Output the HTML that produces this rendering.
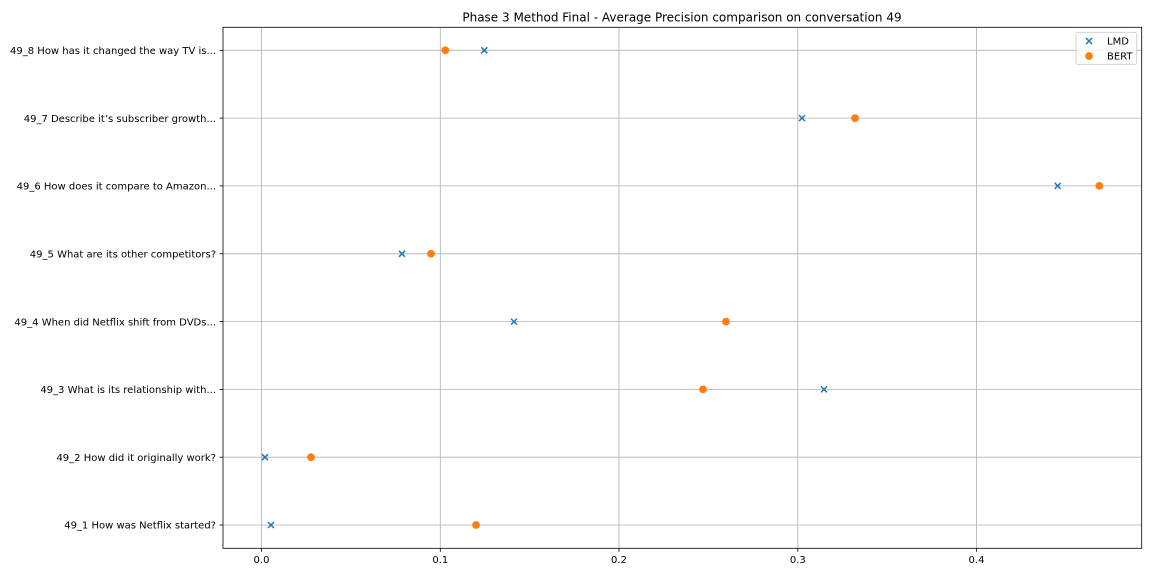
<!DOCTYPE html>
<html>
<head>
<meta charset="utf-8">
<style>
html,body{margin:0;padding:0;background:#fff;}
svg{display:block;}
text{font-family:"DejaVu Sans","Liberation Sans",sans-serif;fill:#000;}
</style>
</head>
<body>
<svg width="1152" height="576" viewBox="0 0 1152 576" xmlns="http://www.w3.org/2000/svg">
<rect x="0" y="0" width="1152" height="576" fill="#fff"/>
<!-- grid vertical -->
<g stroke="#b0b0b0" stroke-width="0.8">
<line x1="261.5" y1="27.3" x2="261.5" y2="548.3"/>
<line x1="440.3" y1="27.3" x2="440.3" y2="548.3"/>
<line x1="619" y1="27.3" x2="619" y2="548.3"/>
<line x1="797.8" y1="27.3" x2="797.8" y2="548.3"/>
<line x1="976.5" y1="27.3" x2="976.5" y2="548.3"/>
<!-- horizontal -->
<line x1="223" y1="50.3" x2="1141.7" y2="50.3"/>
<line x1="223" y1="118.1" x2="1141.7" y2="118.1"/>
<line x1="223" y1="185.9" x2="1141.7" y2="185.9"/>
<line x1="223" y1="253.8" x2="1141.7" y2="253.8"/>
<line x1="223" y1="321.6" x2="1141.7" y2="321.6"/>
<line x1="223" y1="389.4" x2="1141.7" y2="389.4"/>
<line x1="223" y1="457.2" x2="1141.7" y2="457.2"/>
<line x1="223" y1="525" x2="1141.7" y2="525"/>
</g>
<!-- LMD markers -->
<g stroke="#1f77b4" stroke-width="1.5" fill="none">
<path d="M481.3 47.3 l6 6 M481.3 53.3 l6 -6"/>
<path d="M799 115.1 l6 6 M799 121.1 l6 -6"/>
<path d="M1054.7 182.9 l6 6 M1054.7 188.9 l6 -6"/>
<path d="M399 250.8 l6 6 M399 256.8 l6 -6"/>
<path d="M511 318.6 l6 6 M511 324.6 l6 -6"/>
<path d="M821 386.4 l6 6 M821 392.4 l6 -6"/>
<path d="M262 454.2 l6 6 M262 460.2 l6 -6"/>
<path d="M268 522 l6 6 M268 528 l6 -6"/>
</g>
<!-- BERT markers -->
<g fill="#ff7f0e" stroke="#ff7f0e" stroke-width="1">
<circle cx="445.3" cy="50.3" r="3.4"/>
<circle cx="855" cy="118.1" r="3.4"/>
<circle cx="1099.3" cy="185.9" r="3.4"/>
<circle cx="431" cy="253.8" r="3.4"/>
<circle cx="726" cy="321.6" r="3.4"/>
<circle cx="703" cy="389.4" r="3.4"/>
<circle cx="311" cy="457.2" r="3.4"/>
<circle cx="476" cy="525" r="3.4"/>
</g>
<!-- spines -->
<rect x="223" y="27.3" width="918.7" height="521" fill="none" stroke="#000" stroke-width="0.8"/>
<!-- ticks -->
<g stroke="#000" stroke-width="0.8">
<line x1="261.5" y1="548.3" x2="261.5" y2="551.8"/>
<line x1="440.3" y1="548.3" x2="440.3" y2="551.8"/>
<line x1="619" y1="548.3" x2="619" y2="551.8"/>
<line x1="797.8" y1="548.3" x2="797.8" y2="551.8"/>
<line x1="976.5" y1="548.3" x2="976.5" y2="551.8"/>
<line x1="219.5" y1="50.3" x2="223" y2="50.3"/>
<line x1="219.5" y1="118.1" x2="223" y2="118.1"/>
<line x1="219.5" y1="185.9" x2="223" y2="185.9"/>
<line x1="219.5" y1="253.8" x2="223" y2="253.8"/>
<line x1="219.5" y1="321.6" x2="223" y2="321.6"/>
<line x1="219.5" y1="389.4" x2="223" y2="389.4"/>
<line x1="219.5" y1="457.2" x2="223" y2="457.2"/>
<line x1="219.5" y1="525" x2="223" y2="525"/>
</g>
<!-- x tick labels -->
<g font-size="10" text-anchor="middle">
<text x="261.5" y="563">0.0</text>
<text x="440.3" y="563">0.1</text>
<text x="619" y="563">0.2</text>
<text x="797.8" y="563">0.3</text>
<text x="976.5" y="563">0.4</text>
</g>
<!-- y tick labels -->
<g font-size="10" text-anchor="end">
<text x="216" y="54">49_8 How has it changed the way TV is...</text>
<text x="216" y="121.8">49_7 Describe it’s subscriber growth...</text>
<text x="216" y="189.6">49_6 How does it compare to Amazon...</text>
<text x="216" y="257.5">49_5 What are its other competitors?</text>
<text x="216" y="325.3">49_4 When did Netflix shift from DVDs...</text>
<text x="216" y="393.1">49_3 What is its relationship with...</text>
<text x="216" y="460.9">49_2 How did it originally work?</text>
<text x="216" y="528.7">49_1 How was Netflix started?</text>
</g>
<!-- title -->
<text x="682" y="21.5" font-size="12" text-anchor="middle">Phase 3 Method Final - Average Precision comparison on conversation 49</text>
<!-- legend -->
<rect x="1076" y="32.3" width="60.7" height="32" rx="2" ry="2" fill="#fff" fill-opacity="0.8" stroke="#cccccc" stroke-width="0.8"/>
<path d="M1086 38 l6 6 M1086 44 l6 -6" stroke="#1f77b4" stroke-width="1.5" fill="none"/>
<circle cx="1089" cy="56" r="3.4" fill="#ff7f0e" stroke="#ff7f0e" stroke-width="1"/>
<g font-size="10">
<text x="1107" y="44.5">LMD</text>
<text x="1107" y="59.5">BERT</text>
</g>
</svg>
</body>
</html>
